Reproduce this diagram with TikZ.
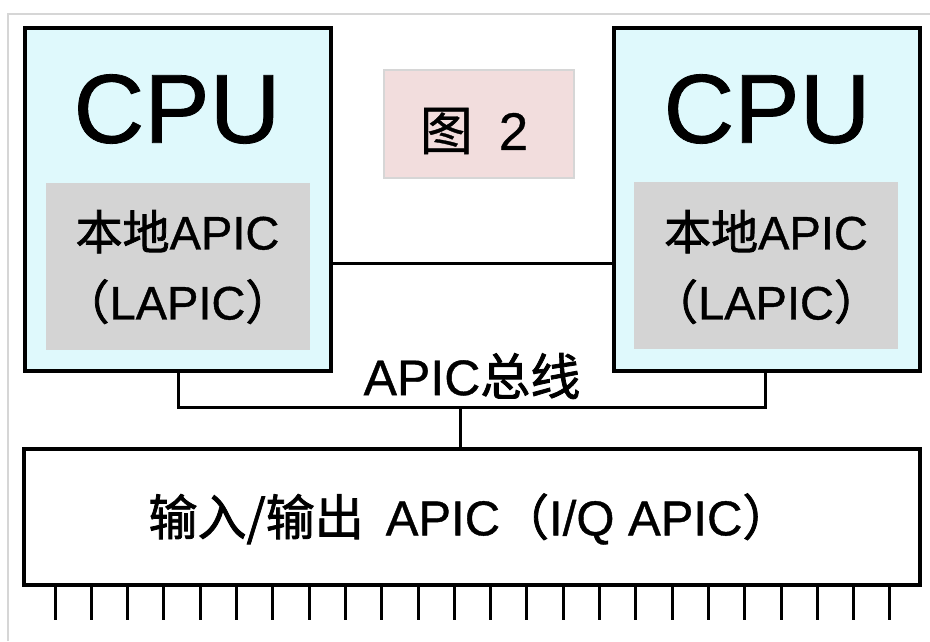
\documentclass[tikz,border=0pt]{standalone}
\usepackage{fontspec}
\setmainfont[FakeBold=0.6]{Liberation Sans}
\newfontfamily\cjk[FakeBold=1.6]{Noto Sans CJK SC}
\newfontfamily\cjkl[FakeBold=0.6]{Noto Sans CJK SC}
\newfontfamily\latb[FakeBold=0.8]{Liberation Sans}
\definecolor{cpufill}{HTML}{DFF9FC}
\definecolor{lapicfill}{HTML}{D4D4D4}
\definecolor{figfill}{HTML}{F2DDDD}
\definecolor{framegray}{HTML}{D6D6D6}
\begin{document}
\begin{tikzpicture}[x=1pt,y=-1pt,
  cpubox/.style={draw=black, fill=cpufill, line width=4pt, minimum width=306pt, minimum height=343pt, inner sep=0pt},
  lapicbox/.style={fill=lapicfill, minimum width=264pt, minimum height=167pt, inner sep=0pt},
  iobox/.style={draw=black, fill=white, line width=4pt, minimum width=896pt, minimum height=136pt, inner sep=0pt},
  figbox/.style={draw=framegray, fill=figfill, line width=1.2pt, minimum width=190pt, minimum height=108pt, inner sep=0pt},
  wire/.style={draw=black, line width=3pt},
  bigtext/.style={font=\latb\fontsize{98}{100}\selectfont, inner sep=0pt},
  midtext/.style={font=\latb\fontsize{47}{70}\selectfont, align=center, inner sep=0pt},
  iotext/.style={font=\latb\fontsize{49}{52}\selectfont, inner sep=0pt}]
\useasboundingbox (0,0) rectangle (930,641);
\fill[white] (0,0) rectangle (930,641);
% outer frame
\draw[framegray, line width=1.5pt] (8,641) -- (8,14) -- (930,14);
% CPU boxes
\node[cpubox] (cpuL) at (178,199.5) {};
\node[cpubox] (cpuR) at (767,199.5) {};
\node[lapicbox] (lapL) at (177.5,266) {};
\node[lapicbox] (lapR) at (766,265) {};
\node[bigtext] (cpuLt) at (177,109) {CPU};
\node[bigtext] (cpuRt) at (767,109) {CPU};
\node[midtext] (lapLt) at (177.5,267) {{\cjk 本地}APIC\\{\cjk （}LAPIC{\cjk ）}};
\node[midtext] (lapRt) at (766,267) {{\cjk 本地}APIC\\{\cjk （}LAPIC{\cjk ）}};
% figure label
\node[figbox] (fig) at (479,124) {};
\node[font=\fontsize{53}{55}\selectfont, inner sep=0pt] (figt) at (474,131) {{\cjkl 图}\hspace{26pt}2};
% IO APIC box
\node[iobox] (io) at (472,517) {};
\node[iotext] (iot) at (470,519) {{\cjk 输入/输出}\hspace{22pt}APIC{\cjk （}I/Q APIC{\cjk ）}};
% connectors
\coordinate (link) at (0,263);
\draw[wire] (cpuL.east |- link) -- (cpuR.west |- link);
\coordinate (busL) at (178,407);
\coordinate (busR) at (765,407);
\coordinate (busM) at (460,407);
\draw[wire] (cpuL.south -| busL) -- (busL) -- (busR) -- (cpuR.south -| busR);
\draw[wire] (busM) -- (io.north -| busM);
\node[font=\latb\fontsize{50}{52}\selectfont, inner sep=0pt] (bust) at (472,376) {APIC{\cjk 总线}};
% pins
\foreach \i in {0,...,23} {
  \coordinate (pin\i) at ({55+\i*36.3},620);
  \draw[wire] (io.south -| pin\i) -- (pin\i);
}
\end{tikzpicture}
\end{document}
